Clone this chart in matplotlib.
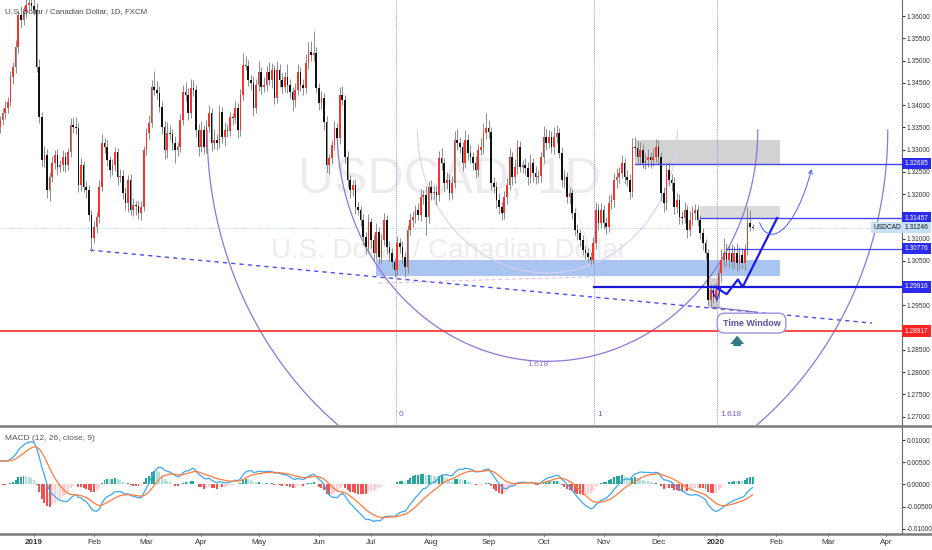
import numpy as np
import pandas as pd
import matplotlib
matplotlib.use('Agg')
import matplotlib.pyplot as plt
import matplotlib.transforms as mtransforms
from matplotlib import font_manager
from matplotlib.patches import Rectangle, FancyArrowPatch
from matplotlib.path import Path
from matplotlib.lines import Line2D

# pick a narrow sans if one is there (TradingView text is narrow)
names = {f.name for f in font_manager.fontManager.ttflist}
narrow = next((f for f in ['Liberation Sans Narrow', 'DejaVu Sans Condensed', 'Liberation Sans']
               if f in names), 'DejaVu Sans')
plt.rcParams['font.family'] = [narrow, 'DejaVu Sans']

# ---------------- data (USDCAD daily) ----------------
start_date = '2018-12-13'
first_open = 1.3350
closes = [
    1.3366, 1.3382, 1.3393, 1.3407, 1.3463, 1.3485, 1.3530, 1.3602, 1.3591, 1.3609,
    1.3625, 1.3629, 1.3623, 1.3614, 1.3485, 1.3373, 1.3276, 1.3288, 1.3209, 1.3238,
    1.3270, 1.3288, 1.3261, 1.3265, 1.3283, 1.3265, 1.3294, 1.3355, 1.3351, 1.3348,
    1.3220, 1.3265, 1.3216, 1.3209, 1.3153, 1.3101, 1.3126, 1.3148, 1.3216, 1.3315,
    1.3306, 1.3276, 1.3254, 1.3265, 1.3294, 1.3238, 1.3241, 1.3202, 1.3180, 1.3232,
    1.3164, 1.3175, 1.3172, 1.3157, 1.3171, 1.3299, 1.3337, 1.3360, 1.3441, 1.3434,
    1.3427, 1.3396, 1.3351, 1.3299, 1.3337, 1.3335, 1.3315, 1.3299, 1.3306, 1.3366,
    1.3429, 1.3423, 1.3382, 1.3438, 1.3434, 1.3344, 1.3306, 1.3344, 1.3306, 1.3351,
    1.3382, 1.3315, 1.3321, 1.3315, 1.3384, 1.3328, 1.3344, 1.3342, 1.3373, 1.3371,
    1.3393, 1.3344, 1.3423, 1.3490, 1.3488, 1.3456, 1.3450, 1.3393, 1.3445, 1.3474,
    1.3441, 1.3445, 1.3474, 1.3456, 1.3479, 1.3416, 1.3479, 1.3456, 1.3441, 1.3463,
    1.3445, 1.3429, 1.3411, 1.3434, 1.3474, 1.3445, 1.3438, 1.3494, 1.3519, 1.3512,
    1.3517, 1.3438, 1.3405, 1.3416, 1.3362, 1.3265, 1.3281, 1.3310, 1.3348, 1.3326,
    1.3423, 1.3411, 1.3283, 1.3232, 1.3209, 1.3220, 1.3171, 1.3164, 1.3142, 1.3103,
    1.3081, 1.3137, 1.3097, 1.3067, 1.3115, 1.3059, 1.3097, 1.3142, 1.3081, 1.3067,
    1.3047, 1.3029, 1.3090, 1.3081, 1.3059, 1.3036, 1.3119, 1.3142, 1.3148, 1.3164,
    1.3153, 1.3193, 1.3198, 1.3148, 1.3216, 1.3202, 1.3205, 1.3198, 1.3281, 1.3270,
    1.3225, 1.3232, 1.3202, 1.3225, 1.3321, 1.3315, 1.3306, 1.3270, 1.3321, 1.3292,
    1.3283, 1.3270, 1.3254, 1.3299, 1.3306, 1.3337, 1.3348, 1.3339, 1.3225, 1.3216,
    1.3187, 1.3171, 1.3157, 1.3193, 1.3220, 1.3283, 1.3238, 1.3261, 1.3306, 1.3261,
    1.3265, 1.3259, 1.3238, 1.3270, 1.3247, 1.3238, 1.3240, 1.3283, 1.3328, 1.3315,
    1.3328, 1.3306, 1.3328, 1.3337, 1.3292, 1.3232, 1.3238, 1.3193, 1.3202, 1.3157,
    1.3119, 1.3112, 1.3097, 1.3074, 1.3067, 1.3059, 1.3052, 1.3090, 1.3164, 1.3135,
    1.3164, 1.3135, 1.3126, 1.3180, 1.3187, 1.3232, 1.3238, 1.3247, 1.3270, 1.3238,
    1.3232, 1.3205, 1.3306, 1.3304, 1.3283, 1.3299, 1.3270, 1.3276, 1.3283, 1.3276,
    1.3283, 1.3306, 1.3283, 1.3202, 1.3180, 1.3254, 1.3232, 1.3225, 1.3171, 1.3187,
    1.3148, 1.3146, 1.3164, 1.3119, 1.3142, 1.3157, 1.3164, 1.3142, 1.3112, 1.3090,
    1.3067, 1.2962, 1.2984, 1.2969, 1.2984, 1.3023, 1.3052, 1.3067, 1.3052, 1.3067,
    1.3047, 1.3067, 1.3045, 1.3063, 1.3045, 1.3074, 1.3135, 1.3126, 1.31246,
]
# wick lengths above / below the body, in pips
wick_up = [
    10, 12, 15, 10, 14, 12, 16, 12, 20, 14, 18, 30, 30, 25, 15, 18, 12, 20, 14, 12,
    15, 10, 14, 12, 16, 12, 10, 15, 18, 22, 12, 16, 10, 14, 12, 10, 14, 12, 16, 20,
    12, 15, 10, 14, 12, 10, 16, 12, 14, 10, 12, 15, 10, 12, 14, 10, 12, 18, 16, 35,
    20, 15, 12, 14, 25, 18, 12, 15, 10, 14, 16, 22, 15, 20, 18, 12, 14, 20, 12, 15,
    18, 12, 25, 14, 16, 12, 18, 14, 12, 10, 15, 12, 14, 28, 20, 14, 12, 16, 14, 25,
    12, 18, 14, 22, 15, 12, 20, 14, 16, 12, 30, 14, 12, 15, 18, 12, 14, 20, 22, 25,
    50, 14, 12, 16, 12, 14, 10, 12, 15, 12, 18, 20, 12, 14, 10, 12, 14, 12, 10, 14,
    12, 18, 10, 14, 20, 12, 14, 16, 12, 14, 12, 10, 16, 12, 14, 10, 12, 15, 14, 12,
    16, 18, 12, 20, 14, 16, 12, 14, 15, 22, 12, 18, 14, 16, 20, 25, 14, 12, 22, 15,
    18, 12, 16, 14, 20, 22, 34, 18, 12, 14, 12, 16, 10, 14, 15, 20, 12, 18, 16, 14,
    12, 15, 14, 20, 12, 16, 14, 12, 25, 18, 16, 14, 22, 18, 12, 14, 16, 12, 14, 10,
    12, 14, 10, 12, 10, 12, 10, 14, 18, 14, 16, 12, 14, 18, 12, 15, 20, 14, 18, 12,
    16, 14, 20, 22, 16, 18, 14, 16, 18, 12, 20, 18, 16, 12, 14, 16, 18, 12, 14, 16,
    12, 14, 18, 12, 20, 16, 14, 12, 10, 12, 10, 10, 14, 12, 16, 12, 25, 35, 22, 18,
    20, 16, 22, 18, 16, 14, 35, 30, 6,
]
wick_dn = [
    12, 10, 14, 12, 10, 15, 12, 14, 16, 12, 14, 12, 10, 12, 10, 14, 12, 16, 18, 25,
    12, 14, 18, 12, 14, 16, 12, 10, 14, 12, 16, 14, 12, 18, 14, 31, 12, 14, 12, 10,
    14, 12, 16, 12, 14, 18, 12, 14, 16, 20, 12, 14, 18, 12, 16, 10, 12, 14, 10, 12,
    14, 12, 16, 20, 18, 14, 16, 30, 14, 12, 10, 14, 16, 12, 14, 16, 20, 12, 16, 14,
    12, 18, 14, 16, 12, 14, 20, 14, 12, 16, 12, 18, 14, 12, 10, 14, 16, 18, 12, 14,
    16, 12, 14, 12, 18, 14, 12, 16, 14, 12, 18, 14, 25, 16, 12, 14, 16, 12, 14, 12,
    14, 12, 16, 14, 18, 16, 20, 14, 12, 16, 14, 12, 14, 16, 18, 14, 16, 12, 14, 18,
    16, 14, 18, 20, 14, 16, 14, 12, 16, 18, 14, 15, 12, 14, 16, 22, 14, 12, 16, 14,
    12, 14, 16, 40, 12, 16, 14, 22, 14, 16, 18, 14, 16, 14, 12, 16, 14, 18, 12, 16,
    14, 16, 18, 14, 12, 16, 14, 12, 16, 14, 18, 16, 15, 14, 16, 12, 18, 14, 16, 12,
    14, 16, 18, 14, 20, 16, 14, 12, 14, 16, 12, 14, 16, 14, 12, 16, 18, 14, 16, 14,
    12, 16, 14, 12, 14, 12, 12, 10, 14, 16, 12, 14, 16, 12, 14, 16, 18, 14, 12, 16,
    14, 16, 12, 18, 14, 16, 12, 14, 16, 18, 14, 12, 16, 18, 20, 16, 14, 18, 16, 14,
    16, 14, 12, 18, 14, 12, 16, 14, 12, 16, 14, 12, 16, 14, 12, 18, 20, 16, 14, 18,
    16, 14, 18, 16, 14, 16, 12, 10, 6,
]

# MACD seeds (indicator value at the left edge of the chart)
ema_fast_seed, ema_slow_seed, signal_seed = 1.3335, 1.3280, 0.0053

# drawn levels / tags
supply_level = 1.32685
resist_level = 1.31457
mid_level = 1.30776
support_level = 1.29916
red_level = 1.28917
last_price = 1.31246

# fib time zones (bar index) and fib arcs
fib_t0, fib_t1 = 151.5, 227.5
arc_center = (209.5, 1.3344)
arc_rx, arc_ry = 49.75, 0.03213

total_bars = 346
# --------------------------------------------------------------------------

c = np.array(closes)
o = np.r_[first_open, c[:-1]]
h = np.maximum(o, c) + np.array(wick_up) * 1e-4
l = np.minimum(o, c) - np.array(wick_dn) * 1e-4
x = np.arange(len(c))
dates = pd.bdate_range(start_date, periods=total_bars)

fig = plt.figure(figsize=(9.32, 5.5), dpi=100)
W, H = 932, 550
axp = fig.add_axes([0, (H - 425) / H, 902 / W, 425 / H])
axm = fig.add_axes([0, (H - 533) / H, 902 / W, (533 - 427) / H])
xmax = 902 / 2.613
for a in (axp, axm):
    a.set_xlim(0, xmax)
    for s in ('top', 'left', 'bottom'):
        a.spines[s].set_visible(False)
    a.spines['right'].set_color('#6a6a6a')
    a.spines['right'].set_linewidth(0.8)
    a.yaxis.tick_right()
    a.tick_params(axis='y', labelsize=4.8, length=2, pad=1.5, colors='#333333')
axp.set_xticks([])
axp.set_ylim(1.2681, 1.3636)

# watermark + title
axp.text(0.498, 0.575, 'USDCAD, 1D', transform=axp.transAxes, ha='center', va='center',
         fontsize=36, color='#ececec', zorder=0)
axp.text(0.498, 0.41, 'U.S. Dollar / Canadian Dollar', transform=axp.transAxes,
         ha='center', va='center', fontsize=20, color='#ececec', zorder=0)
axp.text(0.005, 0.972, 'U.S. Dollar / Canadian Dollar, 1D, FXCM', transform=axp.transAxes,
         ha='left', va='center', fontsize=5.7, color='#4a4a4a', zorder=12)

# zones
axp.add_patch(Rectangle((143.9, 1.3015), 298.5 - 143.9, 1.3052 - 1.3015,
                        fc='#a9c4f0', ec='none', zorder=1))
axp.add_patch(Rectangle((243.0, supply_level), 298.5 - 243.0, 1.3322 - supply_level,
                        fc='#d2d2d2', ec='none', zorder=1))
axp.add_patch(Rectangle((267.9, resist_level), 298.5 - 267.9, 1.3172 - resist_level,
                        fc='#dcdcdc', ec='none', zorder=1))
axp.add_patch(Rectangle((271.0, 1.2944), 4.5, 1.3011 - 1.2944,
                        fc='#d0d0d0', ec='none', zorder=1))

# fib arcs (lower halves)
t = np.linspace(np.pi, 2 * np.pi, 300)
for ratio, col, lw in [(1.0, '#d9d0f0', 0.8), (1.618, '#9174d6', 0.9), (2.618, '#9174d6', 0.9)]:
    axp.plot(arc_center[0] + ratio * arc_rx * np.cos(t), arc_center[1] + ratio * arc_ry * np.sin(t),
             color=col, lw=lw, zorder=2)
axp.text(206, 1.2818, '1.618', fontsize=6, color='#8e7cc3', ha='center', va='center', zorder=2)

# fib time zones
for k, lab in [(0, '0'), (1, '1'), (1.618, '1.618')]:
    xt = fib_t0 + k * (fib_t1 - fib_t0)
    axp.axvline(xt, color='#a48ee0', lw=0.7, ls=(0, (1, 1)), zorder=2)
    axp.text(xt + 1.2, 1.2705, lab, fontsize=6, color='#7e57c2', ha='left', va='center')

# trend lines
axp.plot([34.5, 333.7], [1.3074, 1.2910], color='#4b4cf0', lw=1, ls=(0, (3, 3)), zorder=2)
axp.plot([145, 227], [1.3000, 1.3014], color='#e7b8dc', lw=0.8, ls=(0, (3, 3)), zorder=2)
axp.plot([211.6, 227], [1.3328, 1.3052], color='#c8cdeb', lw=0.6, ls=(0, (1, 1)), zorder=2)
axp.plot([272.5, 288.8], [1.2946, 1.2935], color='#7e6fb8', lw=0.8, zorder=5)

# horizontal levels
axp.axhline(last_price, color='#9ccbf3', lw=0.6, ls=(0, (1, 1.5)), zorder=2)
axp.plot([243.0, xmax], [supply_level] * 2, color='#4646f0', lw=1.0, zorder=5)
axp.plot([267.9, xmax], [resist_level] * 2, color='#4646f0', lw=1.0, zorder=5)
axp.plot([278.0, xmax], [mid_level] * 2, color='#4646f0', lw=0.9, zorder=5)
axp.plot([227.3, xmax], [support_level] * 2, color='#1818e0', lw=1.6, zorder=5)
axp.axhline(red_level, color='#ff2b2b', lw=1.2, zorder=5)

# candles
up = c >= o
axp.vlines(x, l, h, color='#8c8c8c', lw=0.7, zorder=3)
bb = np.minimum(o, c)
bh = np.maximum(np.abs(c - o), 0.00008)
axp.bar(x[up], bh[up], bottom=bb[up], width=0.62, color='#f5352c', lw=0, zorder=4)
axp.bar(x[~up], bh[~up], bottom=bb[~up], width=0.62, color='#111111', lw=0, zorder=4)

# projected path
axp.plot([272.5, 274.4, 275.9], [1.2982, 1.2962, 1.2991], color='#2424ee', lw=0.8, zorder=6)
axp.plot([273.5, 278.1, 282.4, 284.2, 297.4], [1.2992, 1.2975, 1.3008, 1.2991, 1.3146],
         color='#1a1aee', lw=1.6, zorder=6)
curve = Path([(290.7, 1.3136), (294.0, 1.3080), (304.0, 1.3110), (310.6, 1.3256)],
             [Path.MOVETO, Path.CURVE4, Path.CURVE4, Path.CURVE4])
axp.add_patch(FancyArrowPatch(path=curve, arrowstyle='->', mutation_scale=7,
                              color='#4d5ff2', lw=0.7, zorder=6))

# Time Window label + arrow
axp.text(287.6, 1.2910, 'Time Window', fontsize=6.5, fontweight='bold', color='#5b4ea6',
         ha='center', va='center', zorder=7,
         bbox=dict(boxstyle='round,pad=0.6,rounding_size=0.8', fc='white', ec='#a291e2', lw=1))
axp.annotate('', xy=(282.1, 1.2888), xytext=(282.1, 1.2852),
             arrowprops=dict(arrowstyle='simple,head_width=1.0,head_length=0.6,tail_width=0.55',
                             color='#2f7d7f', lw=0), zorder=7)

# right axis (ticks hidden behind the level tags are left blank)
tagged = [supply_level, resist_level, last_price, mid_level, support_level, red_level]
pticks = np.arange(1.27, 1.36001, 0.005)
axp.set_yticks(pticks)
axp.set_yticklabels(['' if min(abs(v - tv) for tv in tagged) < 0.0012 else '%.5f' % v
                     for v in pticks])
blend = mtransforms.blended_transform_factory(axp.transAxes, axp.transData)
for val, fc, tc in [(supply_level, '#2b2bf0', 'white'), (resist_level, '#2b2bf0', 'white'),
                    (last_price, '#c6e0f7', '#1a1a1a'), (mid_level, '#2b2bf0', 'white'),
                    (support_level, '#2b2bf0', 'white'), (red_level, '#ff2424', 'white')]:
    axp.text(1.003, val, '%.5f' % val, transform=blend, ha='left', va='center', fontsize=4.8,
             color=tc, clip_on=False, zorder=20,
             bbox=dict(boxstyle='square,pad=0.35', fc=fc, ec='none'))
axp.text(0.9995, last_price, 'USDCAD', transform=blend, ha='right', va='center', fontsize=4.8,
         color='#1a1a1a', zorder=20, bbox=dict(boxstyle='square,pad=0.35', fc='#c6e0f7', ec='none'))

# ---------------- MACD ----------------
def ema(vals, span, seed):
    a = 2.0 / (span + 1)
    out = np.empty(len(vals))
    prev = seed
    for i, v in enumerate(vals):
        prev = prev + a * (v - prev)
        out[i] = prev
    return out

macd = ema(c, 12, ema_fast_seed) - ema(c, 26, ema_slow_seed)
sig = ema(macd, 9, signal_seed)
hist = macd - sig
prev = np.r_[hist[0], hist[:-1]]
cols = np.where(hist >= 0, np.where(hist >= prev, '#26a69a', '#b2dfdb'),
                np.where(hist < prev, '#ef5350', '#ffcdd2'))
axm.bar(x, hist, width=0.75, color=cols, lw=0, zorder=2)
axm.plot(x, macd, color='#3ea6f2', lw=0.9, zorder=3)
axm.plot(x, sig, color='#ff7a3d', lw=0.9, zorder=3)
axm.set_ylim(-0.011, 0.013)
mticks = [0.01, 0.005, 0.0, -0.005, -0.01]
axm.set_yticks(mticks)
axm.set_yticklabels(['%.5f' % v for v in mticks])
axm.text(0.005, 0.89, 'MACD (12, 26, close, 9)', transform=axm.transAxes, fontsize=6,
         color='#555555', ha='left', va='center')

# month labels
mpos, mlab = [], []
for i in range(1, total_bars):
    if dates[i].month != dates[i - 1].month and i < xmax:
        mpos.append(i)
        mlab.append(str(dates[i].year) if dates[i].month == 1 else dates[i].strftime('%b'))
axm.set_xticks(mpos)
axm.set_xticklabels(mlab)
axm.tick_params(axis='x', labelsize=5.8, length=2.5, pad=2, colors='#333333')
for tl in axm.get_xticklabels():
    if tl.get_text().isdigit():
        tl.set_fontweight('bold')

# panel separators
for yy in (425.5, 533.5):
    fig.add_artist(Line2D([0, 1], [(H - yy) / H] * 2, color='#7a7a7a', lw=1.8))

fig.savefig('out.png', dpi=100)
